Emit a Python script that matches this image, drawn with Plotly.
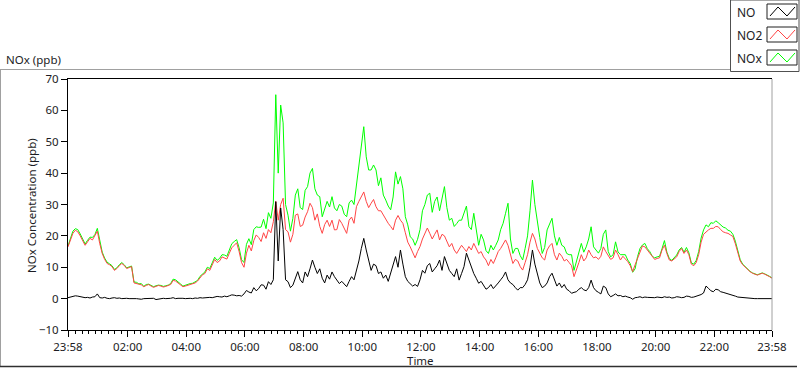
import plotly.graph_objects as go
import pandas as pd

# ---------------- data (5-minute readings, 23:58 -> 23:58 next day) ----------------
start_time = "2023-01-01 23:58"
step = "5min"

no = [0.3, 0.5, 0.6, 0.9, 0.8, 0.6, 0.5, 0.3, 0.4, 0.2, 0.5, 0.6,
      1.5, 0.3, 0.2, 0.4, 0.1, 0.0, 0.2, 0.3, 0.1, 0.2, 0.0, 0.1,
      0.1, 0.0, 0.0, 0.2, 0.0, -0.1, -0.2, 0.0, 0.0, -0.1, 0.0, 0.1,
      -0.3, -0.1, 0.0, 0.1, 0.0, 0.0, 0.1, 0.3, 0.0, 0.1, 0.2, 0.1,
      0.0, 0.1, 0.1, 0.0, 0.2, 0.1, 0.3, 0.2, 0.3, 0.4, 0.4, 0.3,
      0.5, 0.7, 0.6, 0.5, 0.8, 0.6, 0.9, 1.2, 1.1, 0.9, 1.0, 0.8,
      1.5, 2.6, 2.1, 1.8, 3.5, 2.5, 3.2, 4.4, 4.3, 3.0, 5.4, 4.5,
      6.0, 30.9, 12.0, 28.9, 22.0, 6.0, 5.4, 3.5, 4.3, 6.5, 8.6, 6.0,
      5.0, 8.5, 7.0, 9.5, 12.3, 10.0, 8.0, 9.5, 6.5, 5.0, 7.5, 6.2,
      8.5, 7.0, 6.0, 4.8, 5.5, 4.5, 3.8, 5.5, 7.0, 6.0, 9.0, 12.0,
      16.0, 19.2, 15.5, 12.0, 9.0, 11.0, 10.5, 8.0, 8.5, 6.5, 7.5, 5.5,
      8.0, 10.5, 13.4, 10.0, 15.5, 11.0, 7.0, 5.5, 4.9, 4.0, 4.5, 3.9,
      6.0, 9.0, 8.1, 10.5, 11.2, 8.5, 9.5, 10.5, 12.3, 9.0, 13.4, 11.0,
      9.0, 8.0, 7.0, 9.5, 5.9, 8.0, 10.2, 14.5, 12.3, 10.0, 8.0, 6.5,
      4.9, 5.5, 4.0, 3.0, 3.5, 4.5, 3.2, 4.0, 5.0, 6.0, 7.0, 8.5,
      6.0, 5.0, 4.5, 3.5, 2.7, 3.5, 3.5, 4.5, 6.0, 10.0, 15.5, 11.0,
      8.0, 5.0, 3.5, 4.0, 5.0, 7.0, 8.1, 6.0, 4.0, 5.0, 3.5, 4.5,
      3.0, 2.5, 1.7, 2.0, 2.2, 3.0, 3.5, 2.8, 2.5, 3.5, 5.9, 3.5,
      2.5, 2.0, 1.5, 4.0, 3.5, 1.5, 0.6, 1.0, 1.5, 0.9, 1.0, 0.6,
      0.8, 0.5, 0.3, -0.2, 0.3, 0.4, 0.6, 0.3, 0.5, 0.4, 0.3, 0.2,
      0.3, 0.5, 0.4, 0.3, 0.6, 0.4, 0.5, 0.2, 0.3, 0.6, 0.5, 0.3,
      0.4, 0.8, 0.7, 0.4, 0.5, 0.7, 1.0, 1.3, 1.8, 4.0, 3.3, 2.5,
      2.2, 3.0, 2.8, 2.2, 2.0, 1.8, 1.5, 1.3, 1.2, 0.8, 0.5, 0.4,
      0.3, 0.2, 0.1, 0.0, 0.0, 0.0, 0.0, 0.0, 0.0, 0.0, 0.0, 0.0,
      0.0]

no2 = [16.5, 19.0, 20.8, 21.8, 21.3, 20.0, 18.7, 17.0, 18.1, 19.2, 18.7, 20.0,
       21.5, 17.5, 14.4, 12.5, 11.2, 10.8, 10.2, 9.0, 9.6, 10.5, 11.2, 10.6,
       9.6, 9.9, 10.2, 5.0, 4.9, 4.6, 4.4, 3.8, 4.2, 4.5, 4.0, 3.6,
       3.9, 4.2, 4.0, 3.7, 3.9, 4.1, 4.5, 5.8, 5.6, 5.0, 4.4, 3.8,
       4.0, 4.3, 4.5, 4.8, 5.0, 5.6, 6.7, 7.6, 8.0, 9.5, 9.0, 11.0,
       12.5, 11.5, 12.0, 13.3, 13.0, 12.6, 14.5, 16.2, 17.0, 17.8, 15.0, 11.5,
       10.0, 14.5, 17.0, 15.2, 18.5, 20.3, 19.5, 18.2, 21.0, 19.2, 22.0, 21.0,
       24.5, 31.0, 25.0, 30.0, 32.0, 22.0, 21.3, 18.0, 20.5, 26.6, 27.0, 23.0,
       23.4, 26.0, 27.7, 30.4, 29.0, 25.0, 27.0, 23.0, 20.8, 23.6, 25.0, 23.0,
       25.0, 21.9, 22.0, 25.2, 24.0, 22.4, 20.8, 25.0, 26.0, 24.0, 29.3, 31.0,
       32.5, 34.0, 31.0, 29.0, 30.4, 31.6, 29.3, 28.0, 28.0, 26.5, 25.0, 24.0,
       23.0, 21.9, 25.0, 26.5, 25.0, 24.0, 21.0, 18.0, 16.5, 15.0, 13.0, 15.0,
       16.6, 19.0, 21.0, 22.5, 20.8, 19.0, 20.5, 21.9, 18.7, 20.5, 20.0, 18.0,
       16.5, 17.6, 15.5, 14.4, 15.5, 17.0, 16.0, 15.0, 16.6, 15.5, 17.6, 16.0,
       14.4, 15.0, 13.3, 12.3, 10.5, 12.5, 11.2, 13.0, 15.0, 16.0, 17.6, 18.7,
       17.0, 14.0, 11.2, 12.5, 12.0, 10.2, 9.1, 11.5, 14.0, 18.0, 20.8, 19.0,
       16.0, 14.5, 13.0, 12.3, 15.5, 16.8, 17.6, 14.0, 12.3, 14.5, 13.5, 12.0,
       12.5, 11.5, 10.5, 7.0, 9.0, 11.5, 14.0, 12.0, 13.0, 15.5, 14.0, 13.0,
       13.3, 12.5, 13.5, 16.5, 15.0, 13.5, 12.5, 13.0, 15.5, 14.0, 12.3, 13.5,
       12.8, 11.8, 10.5, 8.6, 10.8, 13.0, 15.0, 16.8, 16.5, 15.5, 14.4, 13.3,
       12.5, 12.8, 13.0, 15.5, 17.0, 14.4, 12.3, 12.0, 12.8, 13.3, 15.0, 16.0,
       14.4, 15.5, 14.0, 11.0, 10.5, 11.5, 14.0, 18.0, 20.5, 21.3, 21.9, 22.4,
       22.4, 23.0, 22.9, 22.0, 21.3, 21.0, 20.8, 20.3, 19.8, 17.5, 14.4, 12.0,
       10.8, 10.0, 9.1, 8.6, 8.1, 7.8, 7.5, 7.8, 8.1, 7.8, 7.5, 7.0,
       6.5]

nox = [16.8, 19.5, 21.5, 22.3, 22.0, 20.6, 19.2, 17.4, 18.6, 19.6, 19.5, 20.4,
       22.4, 18.0, 14.8, 12.9, 11.6, 11.1, 10.5, 9.3, 9.8, 10.8, 11.5, 10.8,
       9.8, 10.1, 10.4, 5.3, 5.2, 4.7, 4.8, 3.9, 4.5, 4.6, 4.2, 3.8,
       4.1, 4.3, 4.2, 3.9, 4.1, 4.3, 4.8, 6.2, 6.0, 5.2, 4.7, 4.0,
       4.3, 4.5, 4.8, 4.9, 5.4, 5.8, 7.1, 7.9, 8.5, 10.0, 9.6, 11.4,
       13.2, 12.2, 12.8, 14.0, 13.9, 13.5, 15.6, 17.5, 18.2, 18.8, 16.2, 12.4,
       11.5, 17.3, 19.1, 17.2, 22.0, 22.9, 22.7, 22.8, 25.3, 22.3, 27.4, 25.6,
       30.5, 65.0, 40.0, 61.7, 56.0, 30.0, 26.6, 21.5, 25.6, 33.0, 35.0, 29.0,
       28.4, 34.5, 35.7, 40.0, 41.5, 35.0, 33.0, 32.5, 26.1, 28.6, 31.0, 29.2,
       32.5, 28.9, 28.0, 30.0, 29.5, 26.9, 26.1, 30.5, 31.4, 30.0, 36.0, 43.0,
       49.5, 54.8, 45.2, 41.0, 41.0, 42.6, 41.0, 36.0, 38.5, 33.0, 31.4, 29.5,
       28.3, 32.4, 40.4, 36.5, 38.9, 35.0, 26.1, 23.5, 19.7, 19.0, 17.0, 18.9,
       22.0, 28.0, 30.0, 33.0, 33.6, 27.5, 31.0, 32.4, 28.0, 31.5, 35.7, 29.0,
       25.0, 25.6, 23.0, 23.9, 25.0, 25.0, 27.2, 29.5, 23.0, 22.0, 27.2, 22.5,
       17.0, 20.5, 18.7, 15.3, 14.4, 17.0, 15.5, 17.0, 18.7, 22.0, 24.0, 27.2,
       30.4, 19.0, 14.4, 16.0, 16.0, 13.7, 12.3, 16.0, 20.0, 28.0, 37.8, 30.0,
       24.0, 19.5, 14.4, 16.3, 21.9, 23.8, 25.6, 20.0, 17.0, 19.5, 17.0, 16.5,
       14.4, 14.0, 14.0, 9.0, 12.0, 14.5, 17.6, 14.8, 16.5, 19.0, 22.9, 16.5,
       15.5, 14.5, 16.0, 20.5, 21.9, 15.0, 13.3, 14.0, 18.1, 14.9, 14.0, 14.1,
       14.0, 12.3, 11.2, 8.4, 9.5, 13.4, 16.0, 17.1, 17.6, 15.9, 15.0, 13.5,
       13.0, 13.3, 13.5, 15.9, 18.5, 14.8, 12.8, 12.2, 13.2, 13.9, 15.5, 16.3,
       14.8, 16.3, 14.6, 11.4, 11.0, 12.2, 15.0, 19.3, 21.9, 23.5, 22.9, 24.2,
       24.0, 24.8, 24.2, 23.4, 22.8, 22.5, 21.8, 21.5, 20.5, 18.3, 14.8, 12.4,
       11.0, 10.2, 9.2, 8.7, 8.2, 7.9, 7.6, 7.9, 8.2, 7.9, 7.6, 7.1,
       6.6]

tick_vals = ["2023-01-01 23:58", "2023-01-02 02:00", "2023-01-02 04:00",
             "2023-01-02 06:00", "2023-01-02 08:00", "2023-01-02 10:00",
             "2023-01-02 12:00", "2023-01-02 14:00", "2023-01-02 16:00",
             "2023-01-02 18:00", "2023-01-02 20:00", "2023-01-02 22:00",
             "2023-01-02 23:58"]
tick_text = ["23:58", "02:00", "04:00", "06:00", "08:00", "10:00", "12:00",
             "14:00", "16:00", "18:00", "20:00", "22:00", "23:58"]

series_names = ["NO", "NO2", "NOx"]
series_colors = ["#000000", "#ff4545", "#00ff00"]

y_range = [-10, 70]
y_title = "NOx Concentration (ppb)"
x_title = "Time"
chart_title = "NOx (ppb)"

times = pd.date_range(start_time, periods=len(no2), freq=step)

# ---------------- figure ----------------
W, H = 800, 369
L, R, T, B = 68, 28, 79, 39
PW, PH = W - L - R, H - T - B
FONT = "Noto Sans"
FS = 11.5
TXT = "#1c1c24"


def px(x):
    return (x - L) / PW


def py(y):
    return (H - B - y) / PH


fig = go.Figure()
values = {"NO": no, "NO2": no2, "NOx": nox}
for name in ["NOx", "NO2", "NO"]:
    fig.add_trace(go.Scatter(
        x=times, y=values[name], mode="lines", name=name,
        line=dict(color=series_colors[series_names.index(name)], width=1),
        showlegend=False))

shapes = []
# outer frame of the graph panel
shapes.append(dict(type="line", xref="paper", yref="paper",
                   x0=px(0), x1=px(730), y0=py(69.5), y1=py(69.5),
                   line=dict(color="#a0a0a0", width=1)))
shapes.append(dict(type="line", xref="paper", yref="paper",
                   x0=px(0.5), x1=px(0.5), y0=py(69.5), y1=py(367),
                   line=dict(color="#a0a0a0", width=1)))
shapes.append(dict(type="line", xref="paper", yref="paper",
                   x0=px(0), x1=px(797), y0=py(366.5), y1=py(366.5),
                   line=dict(color="#303030", width=1.5)))
# right border of plot area (grey)
shapes.append(dict(type="line", xref="paper", yref="paper",
                   x0=1, x1=1, y0=0, y1=1,
                   line=dict(color="#a0a0a0", width=1)))

# legend panel
shapes.append(dict(type="rect", xref="paper", yref="paper",
                   x0=px(730.5), x1=px(799), y0=py(0), y1=py(71.5),
                   line=dict(color="#505050", width=1), fillcolor="white"))
annotations = []
rows = [(4, 19, 12), (27, 42, 35.5), (50, 65, 58.5)]
for (y0, y1, yc), name, col in zip(rows, series_names, series_colors):
    shapes.append(dict(type="rect", xref="paper", yref="paper",
                       x0=px(767), x1=px(797), y0=py(y0), y1=py(y1),
                       line=dict(color="#202020", width=1), fillcolor="white"))
    pts = [(770, y1 - 3), (778, y0 + 3), (787, y1 - 3), (795, y0 + 3)]
    path = "M " + " L ".join(f"{px(a):.5f},{py(b):.5f}" for a, b in pts)
    shapes.append(dict(type="path", xref="paper", yref="paper", path=path,
                       line=dict(color=col, width=1)))
    annotations.append(dict(xref="paper", yref="paper", x=px(735), y=py(yc),
                            xanchor="left", yanchor="middle", text=name,
                            showarrow=False, font=dict(family=FONT, size=FS + 0.5, color=TXT)))

annotations.append(dict(xref="paper", yref="paper", x=px(4), y=py(59),
                        xanchor="left", yanchor="middle", text=chart_title,
                        showarrow=False, font=dict(family=FONT, size=FS, color=TXT)))
annotations.append(dict(xref="paper", yref="paper", x=0.5, y=py(360),
                        xanchor="center", yanchor="middle", text=x_title,
                        showarrow=False, font=dict(family=FONT, size=FS, color=TXT)))
annotations.append(dict(xref="paper", yref="paper", x=px(31), y=py(206),
                        xanchor="center", yanchor="middle", text=y_title, textangle=-90,
                        showarrow=False, font=dict(family=FONT, size=FS, color=TXT)))

fig.update_layout(
    width=W, height=H,
    margin=dict(l=L, r=R, t=T, b=B),
    paper_bgcolor="white", plot_bgcolor="white",
    showlegend=False,
    shapes=shapes, annotations=annotations,
    font=dict(family=FONT, size=FS, color=TXT),
)
fig.update_xaxes(
    range=[tick_vals[0], tick_vals[-1]],
    tickmode="array", tickvals=tick_vals, ticktext=tick_text,
    ticks="outside", ticklen=6, tickcolor="black", tickwidth=1,
    showline=True, linecolor="black", linewidth=1, mirror=True,
    showgrid=False, zeroline=False,
    minor=dict(ticks="outside", ticklen=3, tickcolor="black",
               dtick=800000, tick0="2023-01-02 02:00", showgrid=False),
    tickfont=dict(family=FONT, size=FS, color=TXT),
)
fig.update_yaxes(
    range=y_range, dtick=10, tick0=0,
    ticks="outside", ticklen=6, tickcolor="black", tickwidth=1,
    showline=True, linecolor="black", linewidth=1,
    showgrid=False, zeroline=False,
    tickfont=dict(family=FONT, size=FS, color=TXT),
)

fig.write_html("out.html",
               config={"displayModeBar": False},
               post_script="document.body.style.margin='0';document.body.style.overflow='hidden';")
